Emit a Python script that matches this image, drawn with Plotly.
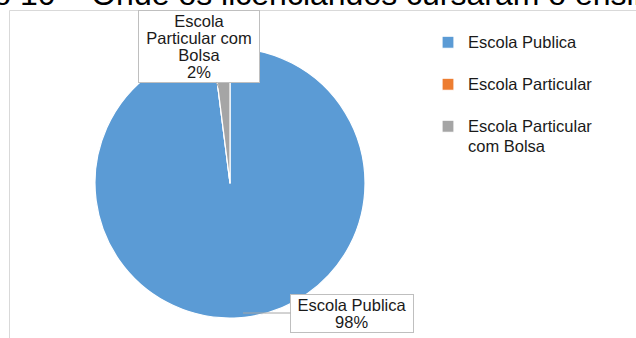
import plotly.graph_objects as go

categories = ["Escola Publica", "Escola Particular", "Escola Particular com Bolsa"]
values = [98, 0, 2]
colors = ["#5B9BD5", "#ED7D31", "#A5A5A5"]
legend_labels = ["Escola Publica<br> ", "Escola Particular<br> ", "Escola Particular<br>com Bolsa"]
callout_labels = ["Escola Publica", "Escola Particular", "Escola<br>Particular com<br>Bolsa"]
title_text = "Gráfico 10 – Onde os licenciandos cursaram o ensino médio"

W, H = 636, 338
total = sum(values)
pct = [f"{round(v / total * 100)}%" for v in values]


def px(x):
    return x / W


def py(y):
    return 1 - y / H


def sized(text, size):
    return "<br>".join(f"<span style='font-size:{size}px'>{ln}</span>" for ln in text.split("<br>"))


font = "Liberation Sans, Arial, sans-serif"

fig = go.Figure(go.Pie(
    labels=[sized(lb, 16.5) for lb in legend_labels],
    values=values,
    sort=False,
    direction="clockwise",
    rotation=0,
    textinfo="none",
    hoverinfo="skip",
    marker=dict(colors=colors, line=dict(color="white", width=1.2)),
    domain=dict(x=[px(95), px(365)], y=[py(318), py(48)]),
))

# chart area border
fig.add_shape(type="rect", xref="paper", yref="paper",
              x0=px(9.5), y0=-0.2, x1=1.2, y1=py(10.5),
              line=dict(color="#D9D9D9", width=1), fillcolor="rgba(0,0,0,0)")

# clipped figure caption above the chart
fig.add_annotation(text=title_text, xref="paper", yref="paper", x=0, y=1,
                   xanchor="left", yanchor="bottom", xshift=-94, yshift=-14.5,
                   showarrow=False, font=dict(family=font, size=32, color="black"))

# callouts (tight line spacing: base size 13, rendered at 16.5px)
fig.add_annotation(text=sized(f"{callout_labels[2]}<br>{pct[2]}", 16.5), xref="paper", yref="paper",
                   x=px(223), y=py(96), ax=-24, ay=-49.5, showarrow=True, arrowhead=0,
                   arrowwidth=1, arrowcolor="#A6A6A6",
                   bgcolor="white", bordercolor="#BFBFBF", borderwidth=1, borderpad=1,
                   width=118, font=dict(family=font, size=13, color="#1a1a1a"))
fig.add_annotation(text=sized(f"{callout_labels[0]}<br>{pct[0]}", 16.5), xref="paper", yref="paper",
                   x=px(243), y=py(313), ax=109, ay=0, showarrow=True, arrowhead=0,
                   arrowwidth=1, arrowcolor="#A6A6A6",
                   bgcolor="white", bordercolor="#BFBFBF", borderwidth=1, borderpad=1,
                   width=120, font=dict(family=font, size=13, color="#1a1a1a"))

fig.update_layout(
    width=W, height=H,
    margin=dict(l=0, r=0, t=0, b=0),
    paper_bgcolor="white", plot_bgcolor="white",
    showlegend=True,
    legend=dict(x=px(428), y=py(26), xanchor="left", yanchor="top",
                font=dict(family=font, size=15, color="#1a1a1a"),
                valign="top", bgcolor="rgba(0,0,0,0)"),
)

fig.write_html("out.html")
